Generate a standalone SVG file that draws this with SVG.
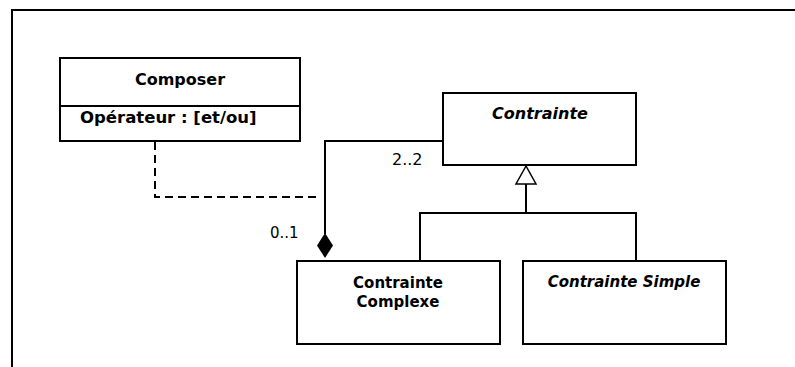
<svg xmlns="http://www.w3.org/2000/svg" width="795" height="367" viewBox="0 0 795 367">
<style>
.box{fill:#fff;stroke:#000;stroke-width:2}
.ln{fill:none;stroke:#000;stroke-width:2}
.dash{fill:none;stroke:#000;stroke-width:2;stroke-dasharray:8 5}
.t{font-family:"DejaVu Sans",Verdana,sans-serif;fill:#000}
.b{font-weight:bold}
.i{font-style:italic}
</style>
<rect width="795" height="367" fill="#fff"/>
<path class="ln" d="M12,367 V10 H796"/>
<g id="composer">
<rect class="box" x="60" y="58" width="240" height="83"/>
<line class="ln" x1="60" y1="106" x2="300" y2="106"/>
<text class="t b" x="180" y="85" font-size="16" text-anchor="middle">Composer</text>
<text class="t b" x="80" y="123" font-size="16.5">Opérateur : [et/ou]</text>
</g>
<g id="contrainte">
<rect class="box" x="443" y="93" width="193" height="72"/>
<text class="t b i" x="540" y="119" font-size="16" text-anchor="middle">Contrainte</text>
</g>
<g id="complexe">
<rect class="box" x="297" y="261" width="203" height="83"/>
<text class="t b" x="398" y="288" font-size="15" text-anchor="middle">Contrainte</text>
<text class="t b" x="398" y="307" font-size="15" text-anchor="middle">Complexe</text>
</g>
<g id="simple">
<rect class="box" x="523" y="261" width="203" height="83"/>
<text class="t b i" x="624" y="287" font-size="15" text-anchor="middle">Contrainte Simple</text>
</g>
<g id="connectors">
<path class="ln" d="M420,261 V213 H636 V261 M526,213 V184"/>
<polygon points="526,166 516,184 536,184" fill="#fff" stroke="#000" stroke-width="1.5"/>
<path class="ln" d="M443,141 H325 V234"/>
<polygon points="325,233 333,245.5 325,258 317,245.5" fill="#000"/>
<path class="dash" d="M155,142 V197 H319"/>
<text class="t" x="392" y="165" font-size="16">2..2</text>
<text class="t" x="270" y="238" font-size="15">0..1</text>
</g>
</svg>
